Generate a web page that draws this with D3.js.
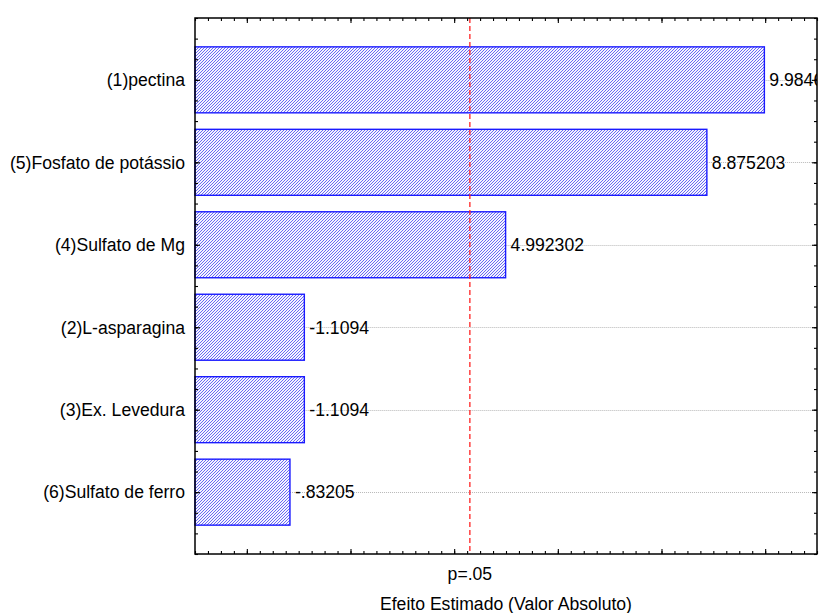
<!DOCTYPE html>
<html>
<head>
<meta charset="utf-8">
<script src="https://cdn.jsdelivr.net/npm/d3@7"></script>
<style>
  body { margin: 0; background: #fff; }
  svg text { font-family: Arial, "Liberation Sans", sans-serif; fill: #000; }
</style>
</head>
<body>
<div id="chart"></div>
<script>
/**
 * Pareto chart of standardized effects
 * CONSTANTS AND DATA
 */
const width = 819,
  height = 613,
  margin = { top: 18, right: 2, bottom: 59, left: 195 },
  fontSize = 17.6;

const categories = [
  "(1)pectina",
  "(5)Fosfato de potássio",
  "(4)Sulfato de Mg",
  "(2)L-asparagina",
  "(3)Ex. Levedura",
  "(6)Sulfato de ferro"
];
const effects = [9.9846, 8.875203, 4.992302, -1.1094, -1.1094, -0.83205];
const valueLabels = ["9.9846", "8.875203", "4.992302", "-1.1094", "-1.1094", "-.83205"];
const pCritical = 4.303; // p=.05
const pLabel = "p=.05";
const xTitle = "Efeito Estimado (Valor Absoluto)";

const data = categories.map((c, i) => ({ name: c, idx: i, effect: effects[i], label: valueLabels[i] }));

// SCALES
const xScale = d3.scaleLinear()
  .domain([-1, 11])
  .range([margin.left, width - margin.right]);

const yScale = d3.scaleLinear()
  .domain([-0.75, categories.length - 0.25])
  .range([margin.top, height - margin.bottom]);

const barHalf = 0.4;

const svg = d3.select("#chart")
  .append("svg")
  .attr("width", width)
  .attr("height", height);

// hatch pattern for the bars
const defs = svg.append("defs");
const pat = defs.append("pattern")
  .attr("id", "hatch")
  .attr("patternUnits", "userSpaceOnUse")
  .attr("width", 3)
  .attr("height", 3);
pat.append("rect").attr("width", 3).attr("height", 3).attr("fill", "#f4f4ff");
pat.append("path")
  .attr("d", "M-1,1 L1,-1 M0,3 L3,0 M2,4 L4,2")
  .attr("stroke", "#6a6af2")
  .attr("stroke-width", 1);

defs.append("clipPath").attr("id", "plotclip")
  .append("rect")
  .attr("x", 0).attr("y", 0)
  .attr("width", width - margin.right).attr("height", height);

// gridlines (dotted) from bar end to right edge
svg.append("g")
  .selectAll("line")
  .data(data)
  .join("line")
  .attr("x1", d => xScale(Math.abs(d.effect)))
  .attr("x2", width - margin.right)
  .attr("y1", d => Math.round(yScale(d.idx)) + 0.5)
  .attr("y2", d => Math.round(yScale(d.idx)) + 0.5)
  .attr("stroke", "#b8b8b8")
  .attr("stroke-width", 1)
  .attr("stroke-dasharray", "1,1");

// bars
svg.append("g")
  .selectAll("rect")
  .data(data)
  .join("rect")
  .attr("x", xScale.range()[0])
  .attr("y", d => yScale(d.idx - barHalf))
  .attr("width", d => xScale(Math.abs(d.effect)) - xScale.range()[0])
  .attr("height", d => yScale(d.idx + barHalf) - yScale(d.idx - barHalf))
  .attr("fill", "url(#hatch)")
  .attr("stroke", "#1a1aff")
  .attr("stroke-width", 1.4);

// value labels
svg.append("g")
  .attr("clip-path", "url(#plotclip)")
  .selectAll("text")
  .data(data)
  .join("text")
  .attr("x", d => xScale(Math.abs(d.effect)) + 5)
  .attr("y", d => yScale(d.idx))
  .attr("dy", "0.36em")
  .attr("font-size", fontSize)
  .text(d => d.label);

// category labels
svg.append("g")
  .selectAll("text")
  .data(data)
  .join("text")
  .attr("x", margin.left - 10)
  .attr("y", d => yScale(d.idx))
  .attr("dy", "0.36em")
  .attr("text-anchor", "end")
  .attr("font-size", fontSize)
  .text(d => d.name);

// critical value line
svg.append("line")
  .attr("x1", xScale(pCritical))
  .attr("x2", xScale(pCritical))
  .attr("y1", margin.top)
  .attr("y2", height - margin.bottom)
  .attr("stroke", "#f22")
  .attr("stroke-width", 1.3)
  .attr("stroke-dasharray", "5,3");

// AXES (ticks only, pointing inward)
const xMinor = d3.range(-1, 11.001, 0.25);
const xMajor = d3.range(0, 10.001, 2);
const yMinor = d3.range(-0.75, categories.length - 0.249, 0.25);
const yMajor = d3.range(0, categories.length);

function tickAxis(axisFn, scale, values, size, transform) {
  const g = svg.append("g")
    .attr("transform", transform)
    .call(axisFn(scale).tickValues(values).tickSize(size).tickFormat(""));
  g.select(".domain").remove();
  g.selectAll("line").attr("stroke", "#000").attr("stroke-width", 1.1);
}

const bottomY = height - margin.bottom;
tickAxis(d3.axisBottom, xScale, xMinor, -3, `translate(0,${bottomY})`);
tickAxis(d3.axisBottom, xScale, xMajor, -5, `translate(0,${bottomY})`);
tickAxis(d3.axisTop, xScale, xMinor, -3, `translate(0,${margin.top})`);
tickAxis(d3.axisTop, xScale, xMajor, -5, `translate(0,${margin.top})`);
tickAxis(d3.axisLeft, yScale, yMinor, -3, `translate(${margin.left},0)`);
tickAxis(d3.axisLeft, yScale, yMajor, -5, `translate(${margin.left},0)`);
tickAxis(d3.axisRight, yScale, yMinor, -3, `translate(${width - margin.right},0)`);
tickAxis(d3.axisRight, yScale, yMajor, -5, `translate(${width - margin.right},0)`);

// frame
svg.append("rect")
  .attr("x", margin.left)
  .attr("y", margin.top)
  .attr("width", width - margin.right - margin.left)
  .attr("height", height - margin.bottom - margin.top)
  .attr("fill", "none")
  .attr("stroke", "#000")
  .attr("stroke-width", 1.5);

// p label and axis title
svg.append("text")
  .attr("x", xScale(pCritical))
  .attr("y", 574)
  .attr("dy", "0.36em")
  .attr("text-anchor", "middle")
  .attr("font-size", fontSize)
  .text(pLabel);

svg.append("text")
  .attr("x", (margin.left + width - margin.right) / 2)
  .attr("y", 604)
  .attr("dy", "0.36em")
  .attr("text-anchor", "middle")
  .attr("font-size", fontSize)
  .text(xTitle);
</script>
</body>
</html>
